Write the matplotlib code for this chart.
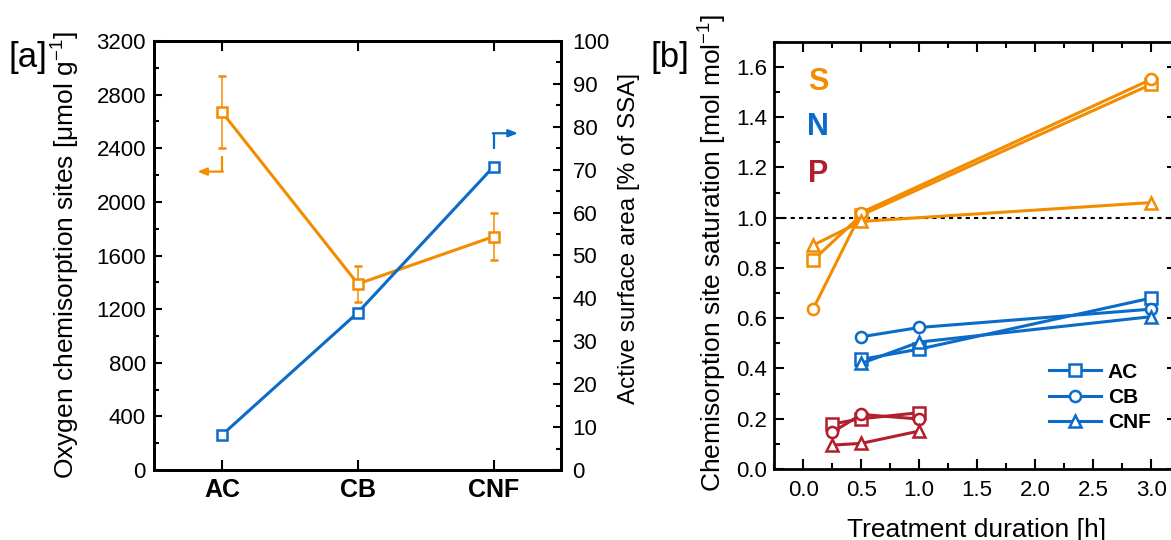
import matplotlib
matplotlib.use("Agg")
import matplotlib.pyplot as plt
from matplotlib.ticker import MultipleLocator, FormatStrFormatter

plt.rcParams['font.family'] = ['Liberation Sans', 'DejaVu Sans']
plt.rcParams['mathtext.fontset'] = 'custom'
plt.rcParams['mathtext.rm'] = 'Liberation Sans'
plt.rcParams['mathtext.it'] = 'Liberation Sans:italic'
plt.rcParams['mathtext.bf'] = 'Liberation Sans:bold'

ORANGE = '#F28C00'
BLUE = '#0B6BC8'
RED = '#B31E2C'

# ---- panel a: chemisorption sites and active surface area per carbon ----
materials = ['AC', 'CB', 'CNF']
sites = [2668, 1388, 1741]              # umol/g
sites_err_low = [264, 137, 174]
sites_err_high = [269, 136, 174]
active_area = [8.2, 36.7, 70.7]         # % of SSA

# ---- panel b: site saturation vs. treatment duration ----
S_AC_t = [0.083, 0.5, 3.0]
S_AC = [0.83, 1.01, 1.53]
S_CB_t = [0.083, 0.5, 3.0]
S_CB = [0.635, 1.02, 1.55]
S_CNF_t = [0.083, 0.5, 3.0]
S_CNF = [0.89, 0.985, 1.06]

N_AC_t = [0.5, 1.0, 3.0]
N_AC = [0.436, 0.477, 0.68]
N_CB_t = [0.5, 1.0, 3.0]
N_CB = [0.526, 0.563, 0.636]
N_CNF_t = [0.5, 1.0, 3.0]
N_CNF = [0.42, 0.505, 0.606]

P_AC_t = [0.25, 0.5, 1.0]
P_AC = [0.179, 0.20, 0.224]
P_CB_t = [0.25, 0.5, 1.0]
P_CB = [0.146, 0.217, 0.199]
P_CNF_t = [0.25, 0.5, 1.0]
P_CNF = [0.095, 0.102, 0.151]

W, H = 1171, 540
fig = plt.figure(figsize=(W / 100, H / 100), dpi=100)

def frac(x0, y_top, x1, y_bot):
    return [x0 / W, 1 - y_bot / H, (x1 - x0) / W, (y_bot - y_top) / H]

TICK = 16
LABEL = 19
SPINE = 2.0
TW = 1.5

# ================= panel a =================
ax = fig.add_axes(frac(154.3, 41, 561.4, 470))
xpos = [1, 2, 3]
ax.errorbar(xpos, sites, yerr=[sites_err_low, sites_err_high], color=ORANGE,
            lw=2.2, marker='s', ms=7.5, mfc='white', mec=ORANGE, mew=1.8,
            elinewidth=1.1, capsize=3, capthick=1.1, zorder=3)
ax.set_xlim(0.5, 3.5)
ax.set_ylim(0, 3200)
ax.set_xticks(xpos)
ax.set_xticklabels(materials, fontsize=18, fontweight='bold')
ax.yaxis.set_major_locator(MultipleLocator(400))
ax.yaxis.set_minor_locator(MultipleLocator(200))
ax.tick_params(axis='y', which='major', direction='in', length=5.5, width=TW,
               labelsize=TICK, pad=6)
ax.tick_params(axis='y', which='minor', direction='in', length=3.5, width=TW)
ax.tick_params(axis='x', which='major', direction='in', length=7, width=TW,
               top=True, pad=6)
ax.set_ylabel('Oxygen chemisorption sites [μmol g$^{-1}$]', fontsize=LABEL)
ax.yaxis.set_label_coords(-0.178, 0.5)
for s in ax.spines.values():
    s.set_linewidth(SPINE)

# pointer arrow towards the left scale
ax.plot([1, 1], [2345, 2226], color=ORANGE, lw=1.6, solid_capstyle='butt')
ax.annotate('', xy=(0.817, 2226), xytext=(1.006, 2226),
            arrowprops=dict(arrowstyle='-|>,head_length=0.55,head_width=0.22',
                            color=ORANGE, lw=1.6, shrinkA=0, shrinkB=0))

ax2 = ax.twinx()
ax2.plot(xpos, active_area, color=BLUE, lw=2.2, marker='s', ms=7.5,
         mfc='white', mec=BLUE, mew=1.8, zorder=3)
ax2.set_ylim(0, 100)
ax2.yaxis.set_major_locator(MultipleLocator(10))
ax2.yaxis.set_minor_locator(MultipleLocator(5))
ax2.tick_params(axis='y', which='major', direction='in', length=5.5, width=TW,
                labelsize=TICK, pad=8)
ax2.tick_params(axis='y', which='minor', direction='in', length=3.5, width=TW)
ax2.set_ylabel('Active surface area [% of SSA]', fontsize=17.5)
ax2.yaxis.set_label_coords(1.14, 0.54)
for s in ax2.spines.values():
    s.set_linewidth(SPINE)

# pointer arrow towards the right scale
ax2.plot([3, 3], [74.9, 78.5], color=BLUE, lw=1.6, solid_capstyle='butt')
ax2.annotate('', xy=(3.18, 78.5), xytext=(2.994, 78.5),
             arrowprops=dict(arrowstyle='-|>,head_length=0.55,head_width=0.22',
                             color=BLUE, lw=1.6, shrinkA=0, shrinkB=0))

fig.text(28 / W, 1 - 57.5 / H, '[a]', fontsize=25, ha='center', va='center')

# ================= panel b =================
bx = fig.add_axes(frac(774.3, 41.7, 1176.6, 469))
line_kw = dict(lw=2.2, mfc='white', mew=1.8)
marker_size = {'s': 8, 'o': 8, '^': 9}
series = [
    (S_AC_t, S_AC, ORANGE, 's'), (S_CB_t, S_CB, ORANGE, 'o'), (S_CNF_t, S_CNF, ORANGE, '^'),
    (N_AC_t, N_AC, BLUE, 's'), (N_CB_t, N_CB, BLUE, 'o'), (N_CNF_t, N_CNF, BLUE, '^'),
    (P_AC_t, P_AC, RED, 's'), (P_CB_t, P_CB, RED, 'o'), (P_CNF_t, P_CNF, RED, '^'),
]
for t, v, c, m in series:
    bx.plot(t, v, color=c, marker=m, mec=c, ms=marker_size[m], **line_kw,
            zorder=3)

bx.axhline(1.0, color='black', lw=1.5, ls=(0, (2, 2)), zorder=2)
bx.set_xlim(-0.25, 3.22)
bx.set_ylim(0, 1.7)
bx.xaxis.set_major_locator(MultipleLocator(0.5))
bx.xaxis.set_minor_locator(MultipleLocator(0.25))
bx.yaxis.set_major_locator(MultipleLocator(0.2))
bx.yaxis.set_minor_locator(MultipleLocator(0.1))
bx.xaxis.set_major_formatter(FormatStrFormatter('%.1f'))
bx.yaxis.set_major_formatter(FormatStrFormatter('%.1f'))
bx.tick_params(which='major', direction='in', length=7, width=TW,
               top=True, right=True, labelsize=TICK)
bx.tick_params(axis='x', which='major', pad=8)
bx.tick_params(axis='y', which='major', pad=5)
bx.tick_params(which='minor', direction='in', length=4.5, width=TW,
               top=True, right=True)
bx.set_ylabel('Chemisorption site saturation [mol mol$^{-1}$]', fontsize=LABEL)
bx.yaxis.set_label_coords(-0.113, 0.505)
bx.set_xlabel('Treatment duration [h]', fontsize=LABEL)
bx.xaxis.set_label_coords(0.503, -0.114)
for s in bx.spines.values():
    s.set_linewidth(SPINE)

bx.text(0.126, 1.540, 'S', color=ORANGE, fontsize=22, fontweight='bold',
        ha='center', va='center')
bx.text(0.126, 1.359, 'N', color=BLUE, fontsize=22, fontweight='bold',
        ha='center', va='center')
bx.text(0.126, 1.173, 'P', color=RED, fontsize=22, fontweight='bold',
        ha='center', va='center')

handles = [plt.Line2D([], [], color=BLUE, marker=m, mec=BLUE,
                      ms=marker_size[m], **line_kw)
           for m in ['s', 'o', '^']]
bx.legend(handles, materials, loc='upper left', bbox_to_anchor=(0.683, 0.249),
          frameon=False, borderaxespad=0, borderpad=0, handlelength=2.5,
          handletextpad=0.32, labelspacing=0.3,
          prop={'weight': 'bold', 'size': 15})

fig.text(670 / W, 1 - 58 / H, '[b]', fontsize=25, ha='center', va='center')

fig.savefig('out.png', dpi=100)
